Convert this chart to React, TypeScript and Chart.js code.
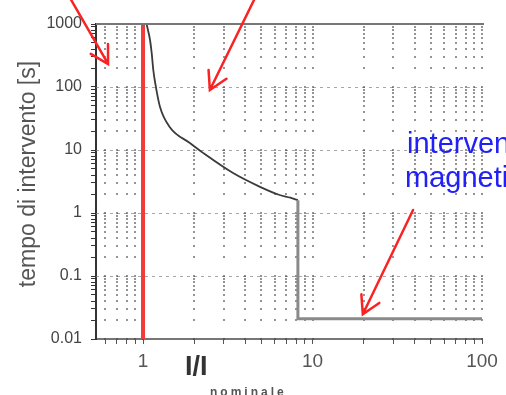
import React, { useEffect, useRef } from 'react';
import { Chart, registerables } from 'chart.js';
Chart.register(...registerables);

// ---- data ----
const xTickValues = [0.6, 0.7, 0.8, 0.9, 1, 2, 3, 4, 5, 6, 7, 8, 9, 10, 20, 30, 40, 50, 60, 70, 80, 90, 100];
const xLabelValues = [1, 10, 100];
const yTickValues = [
  0.01, 0.02, 0.03, 0.04, 0.05, 0.06, 0.07, 0.08, 0.09,
  0.1, 0.2, 0.3, 0.4, 0.5, 0.6, 0.7, 0.8, 0.9,
  1, 2, 3, 4, 5, 6, 7, 8, 9,
  10, 20, 30, 40, 50, 60, 70, 80, 90,
  100, 200, 300, 400, 500, 600, 700, 800, 900,
  1000,
];
const yLabelValues = [0.01, 0.1, 1, 10, 100, 1000];

const thermalX = [1.05, 1.1, 1.125, 1.15, 1.18, 1.26, 1.44, 1.89, 2.26, 3.4, 4.9, 6.4, 7.4, 8.2];
const thermalY = [1000, 557, 347, 186, 116, 48, 23, 12.9, 9.0, 4.3, 2.6, 1.93, 1.75, 1.6];

const magneticX = [8.2, 8.2, 100];
const magneticY = [1.6, 0.021, 0.021];

const nominalX = [1, 1];
const nominalY = [0.01, 1000];

// annotation arrows (data coordinates): tail -> tip
const arrowTailX = [0.371, 4.58, 39.2];
const arrowTailY = [2590, 2590, 1.116];
const arrowTipX = [0.622, 2.48, 19.8];
const arrowTipY = [232, 89.6, 0.0247];

const yTitle = 'tempo di intervento [s]';
const xTitleMain = 'I/I';
const xTitleSub = 'nominale';
const noteLines = ['intervento', 'magnetico'];

const FONT = '"Liberation Sans", Arial, sans-serif';

const toPts = (xs: number[], ys: number[]) => xs.map((x, i) => ({ x, y: ys[i] }));

const decorPlugin = {
  id: 'decor',
  beforeDatasetsDraw(chart: any) {
    const { ctx, chartArea: a, scales } = chart;
    const xs = scales.x, ys = scales.y;
    ctx.save();
    // major horizontal dashed lines
    ctx.strokeStyle = 'rgba(130,130,130,0.7)';
    ctx.lineWidth = 1;
    ctx.setLineDash([3, 4]);
    yLabelValues.forEach((v) => {
      if (v <= 0.01 || v >= 1000) return;
      const py = Math.round(ys.getPixelForValue(v)) + 0.5;
      ctx.beginPath();
      ctx.moveTo(a.left, py);
      ctx.lineTo(a.right, py);
      ctx.stroke();
    });
    ctx.setLineDash([]);
    // dots at grid intersections
    ctx.fillStyle = 'rgba(60,60,60,0.55)';
    xTickValues.forEach((xv) => {
      const px = Math.round(xs.getPixelForValue(xv));
      yTickValues.forEach((yv) => {
        const py = Math.round(ys.getPixelForValue(yv));
        ctx.fillRect(px - 1, py - 1, 2, 2);
      });
    });
    ctx.restore();
  },
  afterDraw(chart: any) {
    const { ctx, chartArea: a, scales } = chart;
    const xs = scales.x, ys = scales.y;
    ctx.save();
    // top frame line
    ctx.strokeStyle = '#777';
    ctx.lineWidth = 2;
    ctx.beginPath();
    ctx.moveTo(a.left, a.top);
    ctx.lineTo(a.right + 2, a.top);
    ctx.stroke();

    // y title
    ctx.save();
    ctx.translate(35, 174);
    ctx.rotate(-Math.PI / 2);
    ctx.font = `23px ${FONT}`;
    ctx.fillStyle = '#555';
    ctx.textAlign = 'center';
    ctx.textBaseline = 'alphabetic';
    ctx.fillText(yTitle, 0, 0);
    ctx.restore();

    // x title
    ctx.font = `bold 27px ${FONT}`;
    ctx.fillStyle = '#333';
    ctx.textAlign = 'left';
    ctx.textBaseline = 'alphabetic';
    ctx.fillText(xTitleMain, 185, 375);
    ctx.font = `bold 12px ${FONT}`;
    ctx.fillStyle = '#555';
    (ctx as any).letterSpacing = '3px';
    ctx.fillText(xTitleSub, 210, 396);
    (ctx as any).letterSpacing = '0px';

    // blue note
    ctx.font = `29px ${FONT}`;
    ctx.fillStyle = '#2121f5';
    ctx.fillText(noteLines[0], 407, 153);
    ctx.fillText(noteLines[1], 405, 187);

    // arrows
    ctx.strokeStyle = '#fa2323';
    ctx.lineWidth = 2.5;
    ctx.lineCap = 'round';
    arrowTipX.forEach((_, i) => {
      const x1 = xs.getPixelForValue(arrowTailX[i]);
      const y1 = ys.getPixelForValue(arrowTailY[i]);
      const x2 = xs.getPixelForValue(arrowTipX[i]);
      const y2 = ys.getPixelForValue(arrowTipY[i]);
      const ang = Math.atan2(y1 - y2, x1 - x2);
      const L = 20, w = 0.52;
      ctx.beginPath();
      ctx.moveTo(x1, y1);
      ctx.lineTo(x2, y2);
      ctx.moveTo(x2 + L * Math.cos(ang - w), y2 + L * Math.sin(ang - w));
      ctx.lineTo(x2, y2);
      ctx.lineTo(x2 + L * Math.cos(ang + w), y2 + L * Math.sin(ang + w));
      ctx.stroke();
    });
    ctx.restore();
  },
};

export default function App() {
  const ref = useRef<HTMLCanvasElement | null>(null);
  useEffect(() => {
    if (!ref.current) return;
    const chart = new Chart(ref.current, {
      type: 'scatter',
      data: {
        datasets: [
          {
            data: toPts(nominalX, nominalY),
            showLine: true,
            borderColor: '#f23b3b',
            borderWidth: 4,
            pointRadius: 0,
          },
          {
            data: toPts(magneticX, magneticY),
            showLine: true,
            borderColor: '#8a8a8a',
            borderWidth: 3,
            pointRadius: 0,
          },
          {
            data: toPts(thermalX, thermalY),
            showLine: true,
            borderColor: '#3a3a3a',
            borderWidth: 1.8,
            pointRadius: 0,
            cubicInterpolationMode: 'monotone',
          },
        ],
      },
      options: {
        animation: false,
        responsive: false,
        layout: { padding: { left: 0, right: 24, top: 24, bottom: 0 } },
        plugins: { legend: { display: false }, tooltip: { enabled: false } },
        scales: {
          x: {
            type: 'logarithmic',
            min: 0.528,
            max: 100,
            afterBuildTicks: (s: any) => {
              s.ticks = xTickValues.map((v) => ({ value: v }));
            },
            afterFit: (s: any) => {
              s.height = 56;
            },
            grid: { drawOnChartArea: false, drawTicks: true, tickLength: 5, tickColor: '#555' },
            border: { display: true, color: '#777', width: 2 },
            ticks: {
              autoSkip: false,
              maxRotation: 0,
              padding: 6,
              color: '#555',
              font: { family: FONT, size: 19 },
              callback: (v: any) => (xLabelValues.includes(Number(v)) ? String(v) : ''),
            },
          },
          y: {
            type: 'logarithmic',
            min: 0.01,
            max: 1000,
            afterBuildTicks: (s: any) => {
              s.ticks = yTickValues.map((v) => ({ value: v }));
            },
            afterFit: (s: any) => {
              s.width = 96;
            },
            grid: { drawOnChartArea: false, drawTicks: true, tickLength: 5, tickColor: '#333' },
            border: { display: true, color: '#333', width: 2 },
            ticks: {
              autoSkip: false,
              padding: 9,
              color: '#444',
              font: { family: FONT, size: 16 },
              callback: (v: any) => (yLabelValues.includes(Number(v)) ? String(v) : ''),
            },
          },
        },
      },
      plugins: [decorPlugin],
    });
    return () => chart.destroy();
  }, []);
  return (
    <div style={{ position: 'absolute', left: 0, top: 0, width: 506, height: 395 }}>
      <canvas ref={ref} width={506} height={395} style={{ display: 'block' }} />
    </div>
  );
}
